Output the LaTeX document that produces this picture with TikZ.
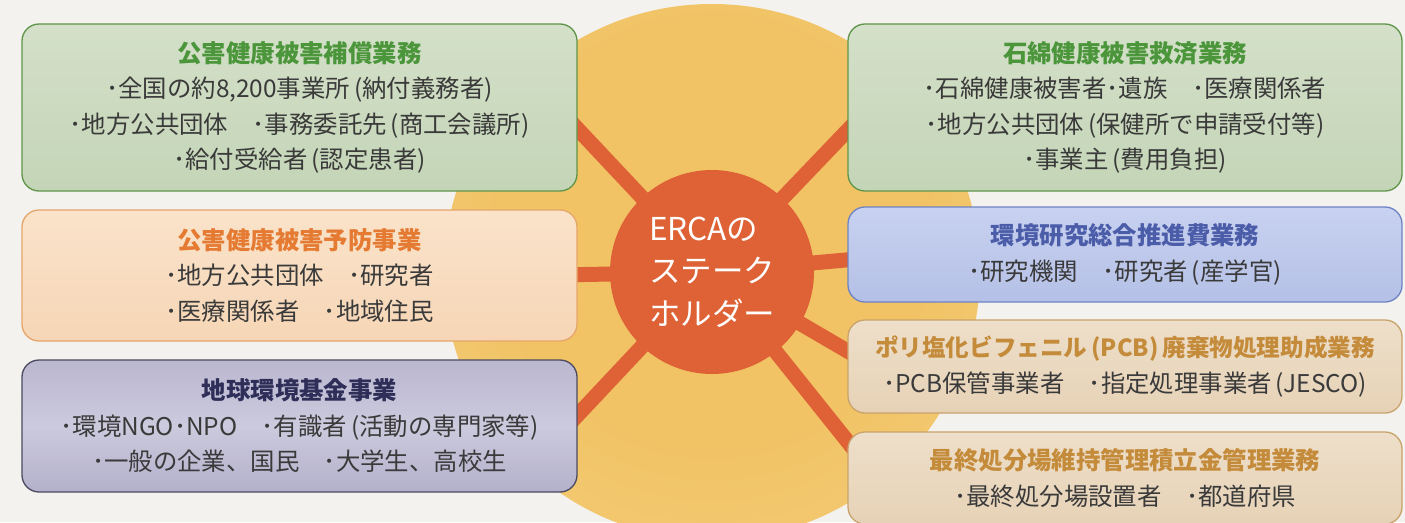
\documentclass[tikz,border=0pt]{standalone}
\usepackage{fontspec}
\setmainfont{Noto Sans CJK JP}
\usetikzlibrary{shadings}
\definecolor{bgc}{HTML}{F3F2EF}
\definecolor{sunA}{HTML}{F1C365}
\definecolor{sunB}{HTML}{F3CB76}
\definecolor{sunC}{HTML}{F6D994}
\definecolor{sunD}{HTML}{F8E5B2}
\definecolor{erca}{HTML}{DE6236}
\definecolor{body}{HTML}{3A3A3A}
\definecolor{gT}{HTML}{D4E0C9}\definecolor{gM}{HTML}{C4D5B7}\definecolor{gB}{HTML}{5F9549}\definecolor{gTi}{HTML}{4B953A}
\definecolor{oT}{HTML}{FAE3CA}\definecolor{oM}{HTML}{F6D6B6}\definecolor{oB}{HTML}{E6A66A}\definecolor{oTi}{HTML}{E57A32}
\definecolor{pT}{HTML}{BAB7D0}\definecolor{pC}{HTML}{CCCADD}\definecolor{pM}{HTML}{B3B0CB}\definecolor{pB}{HTML}{4A4A60}\definecolor{pTi}{HTML}{2E2E58}
\definecolor{uT}{HTML}{C8D1F0}\definecolor{uM}{HTML}{B4C0E6}\definecolor{uB}{HTML}{6E83C4}\definecolor{uTi}{HTML}{4B5CA9}
\definecolor{tT}{HTML}{EEDFCA}\definecolor{tM}{HTML}{E6D2B6}\definecolor{tB}{HTML}{C9A36C}\definecolor{tTi}{HTML}{C48B3B}
\pgfdeclareradialshading{sunshade}{\pgfpoint{0bp}{6bp}}{color(0bp)=(sunA); color(20bp)=(sunA); color(34bp)=(sunB); color(45bp)=(sunC); color(50bp)=(sunD)}
\pgfdeclarelayer{back}
\pgfsetlayers{back,main}
\begin{document}
\begin{tikzpicture}[x=1pt,y=-1pt,
  box/.style={rounded corners=17pt, line width=1.3pt, minimum width=555pt, align=center,
    inner sep=0pt, text=body, font=\fontsize{24.4}{35.5}\selectfont},
  greenbox/.style={box, draw=gB, top color=gT, bottom color=gM},
  orangebox/.style={box, draw=oB, top color=oT, bottom color=oM},
  purplebox/.style={box, draw=pB, top color=pT, bottom color=pM, middle color=pC},
  bluebox/.style={box, draw=uB, top color=uT, bottom color=uM},
  tanbox/.style={box, draw=tB, top color=tT, bottom color=tM},
  spoke/.style={draw=erca, line width=15pt},
  hub/.style={circle, fill=erca, minimum size=204pt, inner sep=0pt, text=white,
    align=left, font=\fontsize{31.5}{42.5}\selectfont}]
\useasboundingbox (0,0) rectangle (1405,522);

\node[hub] (hub) at (712,272) {ERCAの\\ステーク\\ホルダー};

\node[greenbox, minimum height=167pt] (b1) at (299.5,107.5)
  {\textcolor{gTi}{\bfseries 公害健康被害補償業務}\\･全国の約8,200事業所\,(納付義務者)\\･地方公共団体　･事務委託先\,(商工会議所)\\･給付受給者\,(認定患者)};
\node[orangebox, minimum height=131pt] (b2) at (299.5,275.5)
  {\textcolor{oTi}{\bfseries 公害健康被害予防事業}\\･地方公共団体　･研究者\\･医療関係者　･地域住民};
\node[purplebox, minimum height=132pt] (b3) at (299.5,426)
  {\textcolor{pTi}{\bfseries 地球環境基金事業}\\･環境NGO･NPO　･有識者\,(活動の専門家等)\\･一般の企業、国民　･大学生、高校生};
\node[greenbox, minimum height=167pt, minimum width=554pt] (b4) at (1125,107.5)
  {\textcolor{gTi}{\bfseries 石綿健康被害救済業務}\\･石綿健康被害者･遺族　･医療関係者\\･地方公共団体\,(保健所で申請受付等)\\･事業主\,(費用負担)};
\node[bluebox, minimum height=95pt, minimum width=554pt] (b5) at (1125,254.5)
  {\textcolor{uTi}{\bfseries 環境研究総合推進費業務}\\･研究機関　･研究者\,(産学官)};
\node[tanbox, minimum height=93pt, minimum width=554pt] (b6) at (1125,366.5)
  {\textcolor{tTi}{\bfseries\fontsize{23.6}{35.5}\selectfont ポリ塩化ビフェニル\,(PCB)\,廃棄物処理助成業務}\\･PCB保管事業者　･指定処理事業者\,(JESCO)};
\node[tanbox, minimum height=92pt, minimum width=554pt] (b7) at (1125,478)
  {\textcolor{tTi}{\bfseries 最終処分場維持管理積立金管理業務}\\･最終処分場設置者　･都道府県};

\coordinate (e1) at (557,107);
\coordinate (e2) at (560,275);
\coordinate (e3) at (557,437);
\coordinate (e4) at (868,109);
\coordinate (e5) at (868,258);
\coordinate (e6) at (868,363);
\coordinate (e7) at (868,467);

\begin{pgfonlayer}{back}
  \fill[bgc] (0,0) rectangle (1405,522);
  \begin{scope}
    \clip (0,0) rectangle (1405,522);
    \shade[shading=sunshade] (hub.center) circle[radius=268pt];
  \end{scope}
  \draw[spoke] (hub.center) -- (e1);
  \draw[spoke] (hub.center) -- (e2);
  \draw[spoke] (hub.center) -- (e3);
  \draw[spoke] (hub.center) -- (e4);
  \draw[spoke] (hub.center) -- (e5);
  \draw[spoke] (hub.center) -- (e6);
  \draw[spoke] (hub.center) -- (e7);
\end{pgfonlayer}
\end{tikzpicture}
\end{document}
